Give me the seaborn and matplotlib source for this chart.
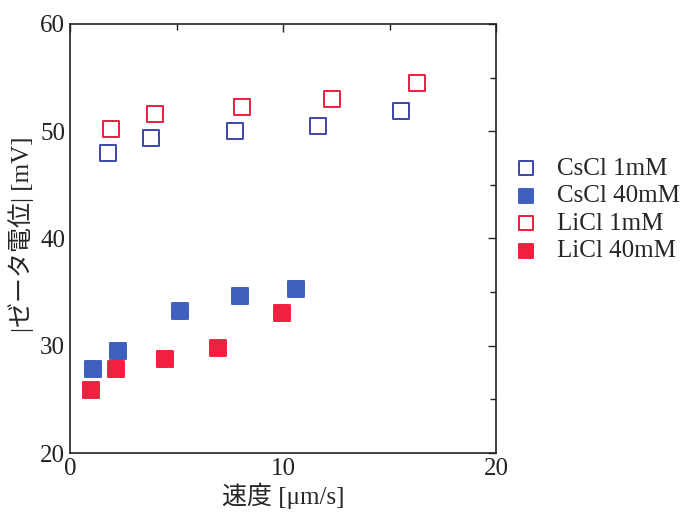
import matplotlib
matplotlib.use("Agg")
import matplotlib.pyplot as plt
from matplotlib.ticker import MultipleLocator
import seaborn as sns
import pandas as pd

sns.set_theme(style="white")
plt.rcParams['font.family'] = ['Liberation Serif', 'Noto Sans CJK JP']

series_names = ["CsCl 1mM", "CsCl 40mM", "LiCl 1mM", "LiCl 40mM"]
cscl_1_x = [1.78, 3.79, 7.73, 11.66, 15.55]
cscl_1_y = [48.0, 49.4, 50.0, 50.5, 51.9]
cscl_40_x = [1.08, 2.25, 5.15, 8.0, 10.6]
cscl_40_y = [27.8, 29.5, 33.2, 34.6, 35.3]
licl_1_x = [1.92, 3.98, 8.06, 12.32, 16.3]
licl_1_y = [50.2, 51.6, 52.3, 53.0, 54.5]
licl_40_x = [0.98, 2.15, 4.45, 6.93, 9.93]
licl_40_y = [25.9, 27.8, 28.8, 29.8, 33.1]

blue = "#3a48a8"
blue_fill = "#3f5fbf"
red = "#e8203c"
red_fill = "#f0203f"

frames = []
for name, xs, ys in [(series_names[0], cscl_1_x, cscl_1_y),
                     (series_names[1], cscl_40_x, cscl_40_y),
                     (series_names[2], licl_1_x, licl_1_y),
                     (series_names[3], licl_40_x, licl_40_y)]:
    frames.append(pd.DataFrame({"x": xs, "y": ys, "series": name}))
df = pd.concat(frames, ignore_index=True)

styles = {
    "CsCl 1mM": dict(facecolor="white", edgecolor=blue),
    "CsCl 40mM": dict(facecolor=blue_fill, edgecolor=blue_fill),
    "LiCl 1mM": dict(facecolor="white", edgecolor=red),
    "LiCl 40mM": dict(facecolor=red_fill, edgecolor=red_fill),
}

fig = plt.figure(figsize=(6.84, 5.13), dpi=100)
ax = fig.add_axes([70/684, 1-453/513, (496-70)/684, (453-24)/513])

for name in series_names:
    sub = df[df["series"] == name]
    st = styles[name]
    sns.scatterplot(data=sub, x="x", y="y", ax=ax, marker="s", s=125,
                    facecolor=st["facecolor"], edgecolor=st["edgecolor"],
                    linewidth=1.4, label=name)

ax.set_xlim(0, 20)
ax.set_ylim(20, 60)
ax.xaxis.set_major_locator(MultipleLocator(10))
ax.xaxis.set_minor_locator(MultipleLocator(5))
ax.yaxis.set_major_locator(MultipleLocator(10))
ax.yaxis.set_minor_locator(MultipleLocator(5))
ax.tick_params(which="both", direction="in", top=True, right=True,
               labelsize=18, colors="#222222")
ax.tick_params(which="major", length=6, width=1)
ax.tick_params(which="minor", length=4, width=1)
for sp in ax.spines.values():
    sp.set_color("#222222")
    sp.set_linewidth(1.2)

ax.set_xlabel("速度 [μm/s]", fontsize=18, labelpad=2)
ax.set_ylabel("|ゼータ電位| [mV]", fontsize=18)
ax.yaxis.set_label_coords(-0.085, 0.51)

leg = ax.legend(loc="upper left", bbox_to_anchor=(1.0, 0.73), frameon=False,
                fontsize=18, handletextpad=0.75, handlelength=1.0,
                labelspacing=0.2, markerscale=0.9, borderpad=0.2)

fig.savefig("out.png", dpi=100)
